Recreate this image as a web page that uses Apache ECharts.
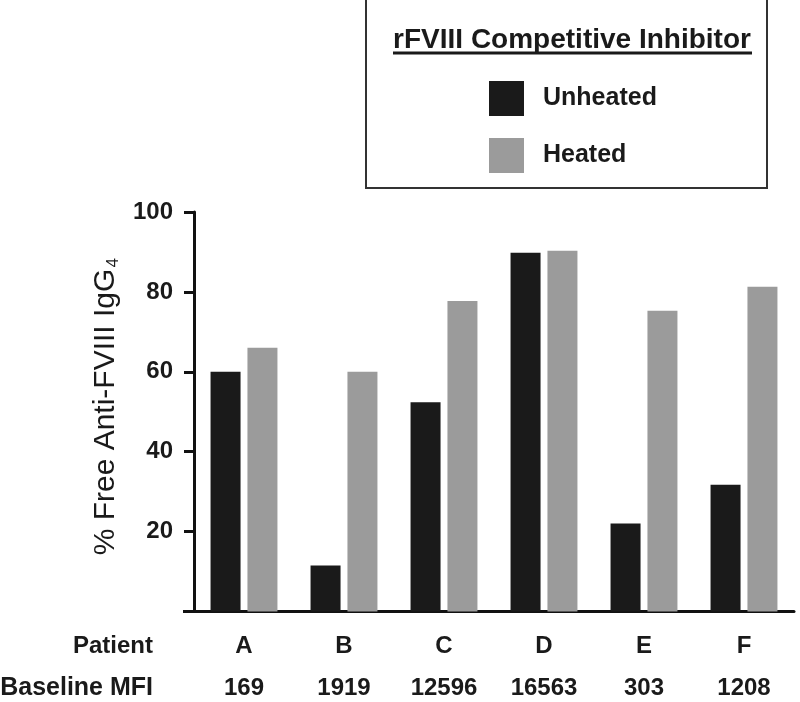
<!DOCTYPE html>
<html>
<head>
<meta charset="utf-8">
<script src="https://cdn.jsdelivr.net/npm/echarts@6/dist/echarts.min.js"></script>
<style>
html,body{margin:0;padding:0;background:#fff;}
#chart{width:800px;height:702px;}
</style>
</head>
<body>
<div id="chart"></div>
<script>
const patients = ['A', 'B', 'C', 'D', 'E', 'F'];
const baselineMFI = ['169', '1919', '12596', '16563', '303', '1208'];
const unheated = [60, 11.5, 52.4, 89.8, 22.0, 31.7];
const heated = [66, 60, 77.7, 90.3, 75.3, 81.3];
const seriesNames = ['Unheated', 'Heated'];
const rowHeaders = ['Patient', 'Baseline MFI'];
const legendTitle = 'rFVIII Competitive Inhibitor';
const yTicks = [0, 20, 40, 60, 80, 100];

const FONT = '"Liberation Sans", Arial, Helvetica, sans-serif';
const chart = echarts.init(document.getElementById('chart'), null, {renderer: 'canvas'});

const option = {
  animation: false,
  backgroundColor: '#ffffff',
  grid: {left: 194, right: 6, top: 212, bottom: 90.5, containLabel: false},
  legend: {
    data: seriesNames,
    orient: 'vertical',
    left: 484,
    top: 76,
    itemWidth: 35,
    itemHeight: 35,
    itemGap: 22,
    icon: 'rect',
    selectedMode: false,
    textStyle: {fontFamily: FONT, fontWeight: 'bold', fontSize: 25, color: '#1a1a1a', padding: [0, 0, 0, 14]}
  },
  xAxis: {
    type: 'category',
    data: patients,
    axisLine: {lineStyle: {color: '#111', width: 3}},
    axisTick: {alignWithLabel: true, length: 10, lineStyle: {color: '#111', width: 3}},
    axisLabel: {
      margin: 14,
      formatter: function (v, i) { return '{p|' + v + '}\n{m|' + baselineMFI[i] + '}'; },
      rich: {
        p: {fontFamily: FONT, fontWeight: 'bold', fontSize: 24, color: '#1a1a1a', lineHeight: 42, align: 'center'},
        m: {fontFamily: FONT, fontWeight: 'bold', fontSize: 24, color: '#1a1a1a', lineHeight: 42, align: 'center'}
      }
    },
    splitLine: {show: false}
  },
  yAxis: {
    type: 'value',
    min: yTicks[0],
    max: yTicks[yTicks.length - 1],
    interval: yTicks[1] - yTicks[0],
    name: '% Free Anti-FVIII IgG{sub|4}',
    nameLocation: 'middle',
    nameGap: 61,
    nameTextStyle: {
      fontFamily: FONT, fontSize: 30, color: '#1a1a1a', padding: [0, 0, 0, 10],
      rich: {sub: {fontFamily: FONT, fontSize: 17, color: '#1a1a1a', padding: [15, 0, 0, 1]}}
    },
    axisLine: {show: true, lineStyle: {color: '#111', width: 3}},
    axisTick: {show: true, inside: false, length: 10, lineStyle: {color: '#111', width: 3}},
    axisLabel: {
      margin: 21,
      fontFamily: FONT, fontWeight: 'bold', fontSize: 24, color: '#1a1a1a',
      formatter: function (v) { return v === 0 ? '' : String(v); }
    },
    splitLine: {show: false}
  },
  series: [
    {name: seriesNames[0], type: 'bar', data: unheated, barWidth: 30, barGap: '23%', itemStyle: {color: '#1a1a1a'}},
    {name: seriesNames[1], type: 'bar', data: heated, barWidth: 30, itemStyle: {color: '#9b9b9b'}}
  ],
  graphic: [
    {type: 'rect', shape: {x: 366, y: -2, width: 401, height: 190}, style: {fill: 'none', stroke: '#333', lineWidth: 2}},
    {type: 'text', x: 572, y: 40, style: {text: legendTitle, fontFamily: FONT, fontWeight: 'bold', fontSize: 28, fill: '#1a1a1a', align: 'center', verticalAlign: 'middle'}},
    {type: 'line', shape: {x1: 393, y1: 53, x2: 752, y2: 53}, style: {stroke: '#1a1a1a', lineWidth: 3}},
    {type: 'line', shape: {x1: 183, y1: 611.5, x2: 195, y2: 611.5}, style: {stroke: '#111', lineWidth: 3}},
    {type: 'text', x: 153, y: 646.5, style: {text: rowHeaders[0], fontFamily: FONT, fontWeight: 'bold', fontSize: 24, fill: '#1a1a1a', align: 'right', verticalAlign: 'middle'}},
    {type: 'text', x: 153, y: 688.5, style: {text: rowHeaders[1], fontFamily: FONT, fontWeight: 'bold', fontSize: 25, fill: '#1a1a1a', align: 'right', verticalAlign: 'middle'}}
  ]
};
chart.setOption(option);
</script>
</body>
</html>
